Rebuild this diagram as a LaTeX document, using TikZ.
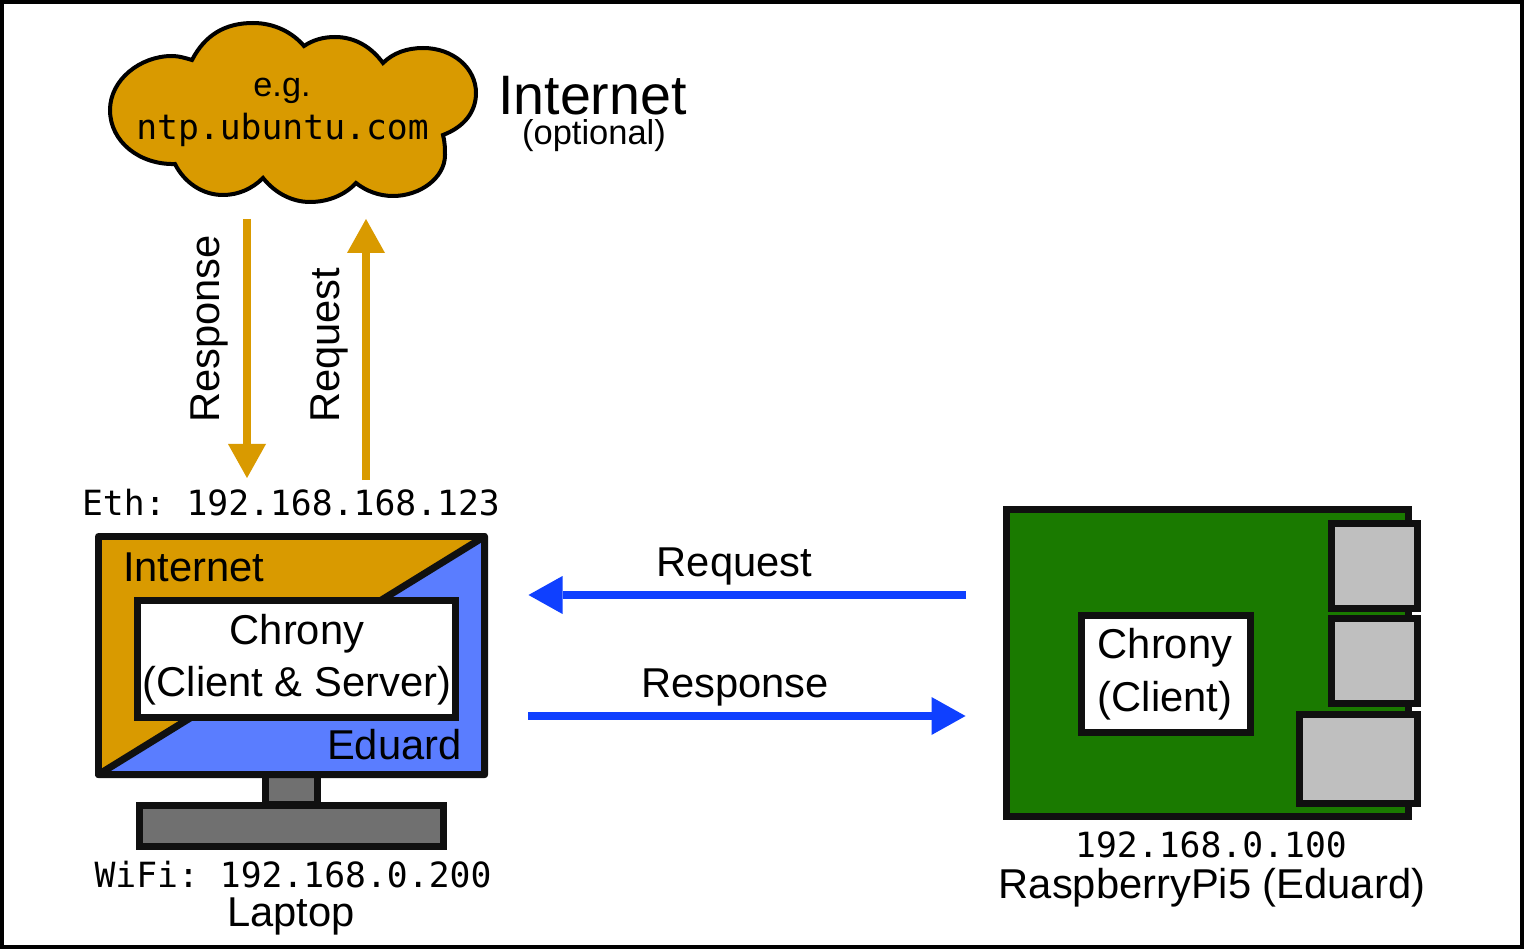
\documentclass[tikz,border=0pt]{standalone}
\usepackage{fontspec}
\setmainfont{Liberation Sans}
\setmonofont{DejaVu Sans Mono}
\usetikzlibrary{arrows.meta}
\definecolor{netorange}{HTML}{D99A00}
\definecolor{arroworange}{HTML}{D99A00}
\definecolor{screenblue}{HTML}{5A7DFF}
\definecolor{arrowblue}{HTML}{0F40FF}
\definecolor{pigreen}{HTML}{1A7A00}
\definecolor{portgray}{HTML}{BFBFBF}
\definecolor{standgray}{HTML}{707070}
\definecolor{edge}{HTML}{101010}
\newcommand{\sz}[1]{\fontsize{#1}{#1}\selectfont}
\tikzset{
  x=1pt,y=-1pt,
  shapebox/.style={draw=edge,line width=7pt,rectangle,inner sep=0pt,outer sep=0pt},
  sized/.style n args={2}{minimum width=#1,minimum height=#2},
  txt/.style={inner sep=0pt,outer sep=0pt,anchor=base,text=black},
  lbl/.style={txt,font=\sz{41.7}},
  mono/.style={txt,font=\ttfamily\sz{34.7}},
  orangearrow/.style={draw=arroworange,line width=8pt,-{Triangle[length=34pt,width=38pt,line width=0pt,fill=arroworange]}},
  bluearrow/.style={draw=arrowblue,line width=8pt,-{Triangle[length=34pt,width=38pt,line width=0pt,fill=arrowblue]}}
}
\begin{document}
\begin{tikzpicture}
\useasboundingbox (0,0) rectangle (1524,949);
\fill[white] (0,0) rectangle (1524,949);
\draw[black,line width=4pt] (2,2) rectangle (1522,947);

% cloud
\draw[black,line width=4pt,fill=netorange,line join=miter]
  (192,60) .. controls (205,35) and (225,23) .. (253,23)
  .. controls (275,23) and (293,33) .. (304,46)
  .. controls (313,40) and (323,37) .. (335,37)
  .. controls (356,37) and (372,48) .. (383,63)
  .. controls (393,53) and (407,48) .. (423,48)
  .. controls (453,48) and (476,68) .. (476,93)
  .. controls (476,112) and (464,127) .. (443,135)
  .. controls (445,142) and (445,150) .. (445,155)
  .. controls (445,178) and (420,196) .. (393,196)
  .. controls (379,196) and (366,191) .. (356,183)
  .. controls (345,195) and (328,202) .. (310,202)
  .. controls (292,202) and (275,193) .. (263,178)
  .. controls (252,189) and (238,195) .. (223,195)
  .. controls (202,195) and (184,182) .. (175,164)
  .. controls (140,165) and (110,142) .. (110,110)
  .. controls (110,80) and (140,56) .. (172,56)
  .. controls (179,56) and (185,58) .. (192,60) -- cycle;
\coordinate (cloudDown) at (247,219);
\coordinate (cloudUp) at (366,219);
\node[txt,font=\sz{34.2}] (eg) at (282,97) {e.g.};
\node[mono] (ntp) at (282.5,140) {ntp.ubuntu.com};
\node[txt,font=\sz{55.6}] (internet) at (592.5,115) {Internet};
\node[txt,font=\sz{34.5}] (optional) at (594,145) {(optional)};

% laptop
\node[shapebox,fill=standgray,sized={52pt}{30.5pt}] (stand) at (291.5,789.25) {};
\node[shapebox,fill=standgray,sized={304pt}{41pt}] (base) at (291.5,826) {};
\draw[edge,line width=7pt] (stand.south west) -- (stand.south east);
\node[shapebox,fill=netorange,line join=round,sized={386pt}{238pt}] (screen) at (291.5,655.5) {};
\draw[edge,line width=7pt,fill=screenblue,line join=round]
  (screen.south west) -- (screen.north east) -- (screen.south east) -- cycle;
\node[shapebox,fill=white,sized={318pt}{117pt}] (chronyL) at (296.5,659) {};
\node[lbl,anchor=base west] (netL) at (123,581) {Internet};
\node[lbl] (chronyLa) at (297,644) {Chrony};
\node[lbl] (chronyLb) at (297,696) {(Client \& Server)};
\node[lbl,anchor=base east] (eduardL) at (461.5,759.5) {Eduard};
\node[mono] (eth) at (291,515) {Eth: 192.168.168.123};
\node[mono] (wifi) at (293,887) {WiFi: 192.168.0.200};
\node[lbl] (laptop) at (291,926) {Laptop};

% raspberry pi
\node[shapebox,fill=pigreen,sized={402pt}{307pt}] (pi) at (1207.5,663) {};
\node[shapebox,fill=portgray,sized={86pt}{85pt}] (portA) at (1374.5,566) {};
\node[shapebox,fill=portgray,sized={86pt}{85pt}] (portB) at (1374.5,661) {};
\node[shapebox,fill=portgray,sized={118pt}{89pt}] (portC) at (1358.5,759) {};
\node[shapebox,fill=white,sized={169pt}{117pt}] (chronyP) at (1166,674) {};
\node[lbl] (chronyPa) at (1165,658) {Chrony};
\node[lbl] (chronyPb) at (1165,711) {(Client)};
\node[mono] (piip) at (1211,857) {192.168.0.100};
\node[lbl] (piname) at (1212,898) {RaspberryPi5 (Eduard)};

% connectors
\draw[bluearrow] ([shift={(-40.5,-68)}]pi.west) -- ([shift={(44,-60.5)}]screen.east);
\draw[bluearrow] ([shift={(43.5,60.5)}]screen.east) -- ([shift={(-41,53)}]pi.west);
\node[lbl] (reqBlue) at (734.5,576) {Request};
\node[lbl] (respBlue) at (735,697) {Response};
\draw[orangearrow] (cloudDown) -- ([shift={(-44,-37)}]eth.base);
\draw[orangearrow] ([shift={(75,-35)}]eth.base) -- (cloudUp);
\node[lbl,rotate=90,anchor=base west] (respO) at (219,423) {Response};
\node[lbl,rotate=90,anchor=base west] (reqO) at (339,423) {Request};
\end{tikzpicture}
\end{document}
